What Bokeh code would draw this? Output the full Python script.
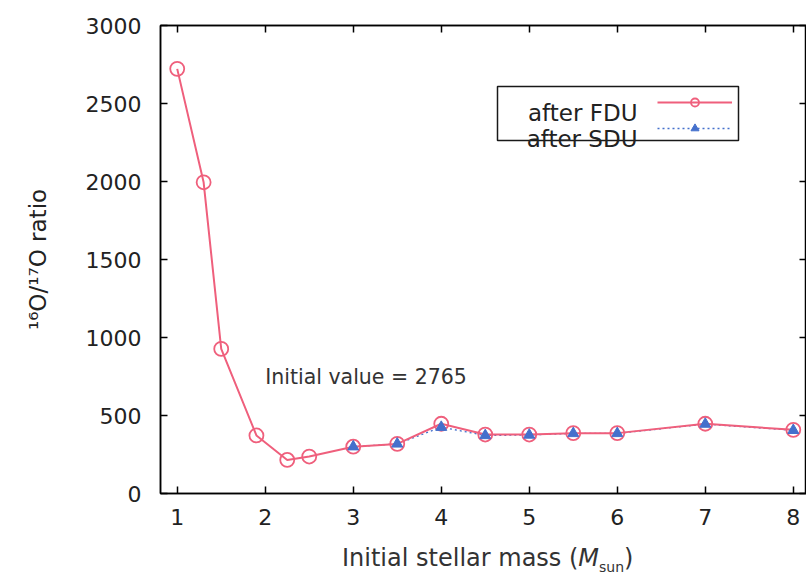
from bokeh.plotting import figure
from bokeh.layouts import column
from bokeh.models import (Range1d, FixedTicker, LinearAxis, Label, BoxAnnotation,
                          Legend, LegendItem, Div, CustomJSTickFormatter)
from bokeh.embed import file_html
from bokeh.resources import INLINE

# ---- data ----
mass_fdu = [1.0, 1.3, 1.5, 1.9, 2.25, 2.5, 3.0, 3.5, 4.0, 4.5, 5.0, 5.5, 6.0, 7.0, 8.0]
ratio_fdu = [2722, 1995, 927, 372, 215, 237, 300, 318, 447, 378, 378, 387, 387, 447, 408]
mass_sdu = [3.0, 3.5, 4.0, 4.5, 5.0, 5.5, 6.0, 7.0, 8.0]
ratio_sdu = [300, 318, 425, 372, 375, 385, 385, 445, 405]
x_ticks = [1, 2, 3, 4, 5, 6, 7, 8]
y_ticks = [0, 500, 1000, 1500, 2000, 2500, 3000]
series_labels = ["after FDU", "after SDU"]
note_text = "Initial value = 2765"
note_x, note_y = 2.0, 745

FONT = "DejaVu Sans"
PINK = "#ef5f7c"
BLUE = "#4470cc"

p = figure(width=806, height=535, output_backend="svg", toolbar_location=None,
           x_range=Range1d(0.81, 8.15), y_range=Range1d(0, 3000),
           min_border_left=160, min_border_right=0, min_border_top=25,
           min_border_bottom=42)
p.background_fill_color = "white"
p.border_fill_color = "white"
p.xgrid.visible = False
p.ygrid.visible = False
p.outline_line_color = "black"
p.outline_line_width = 1.5


def style_axis(ax, ticks, show_labels=True):
    ax.ticker = FixedTicker(ticks=ticks)
    ax.axis_line_color = "black"
    ax.axis_line_width = 1.5
    ax.major_tick_line_color = "black"
    ax.major_tick_line_width = 1.5
    ax.major_tick_in = 7
    ax.major_tick_out = 0
    ax.minor_tick_in = 0
    ax.minor_tick_out = 0
    ax.major_label_text_font = FONT
    ax.major_label_text_color = "#222222"
    ax.major_label_text_font_size = "22px"
    if not show_labels:
        ax.formatter = CustomJSTickFormatter(code="return ''")
        ax.major_label_standoff = 0


style_axis(p.xaxis[0], x_ticks)
style_axis(p.yaxis[0], y_ticks)
p.xaxis[0].major_label_standoff = 15
p.yaxis[0].major_label_standoff = 19
p.yaxis[0].axis_label = "\u00b9\u2076O/\u00b9\u2077O ratio"
p.yaxis[0].axis_label_text_font = FONT
p.yaxis[0].axis_label_text_font_size = "23px"
p.yaxis[0].axis_label_text_font_style = "normal"
p.yaxis[0].axis_label_text_color = "#222222"
p.yaxis[0].axis_label_standoff = 32

top_ax = LinearAxis()
style_axis(top_ax, x_ticks, show_labels=False)
p.add_layout(top_ax, "above")
right_ax = LinearAxis()
style_axis(right_ax, y_ticks, show_labels=False)
p.add_layout(right_ax, "right")

# ---- series ----
sdu_line = p.line(mass_sdu, ratio_sdu, line_color=BLUE, line_width=1.3, line_dash="2 3")
fdu_line = p.line(mass_fdu, ratio_fdu, line_color=PINK, line_width=2)
fdu_pts = p.scatter(mass_fdu, ratio_fdu, marker="circle", size=14, fill_color=None,
                    line_color=PINK, line_width=1.8)
sdu_pts = p.scatter(mass_sdu, ratio_sdu, marker="triangle", size=11, fill_color=BLUE,
                    line_color=BLUE, line_width=1)

# ---- legend (gnuplot style: text, then sample) ----
legend = Legend(items=[LegendItem(label="", renderers=[fdu_line, fdu_pts]),
                       LegendItem(label="", renderers=[sdu_line, sdu_pts])],
                location=(497, 355), glyph_width=75, glyph_height=20,
                label_width=0, label_height=20, label_standoff=0, spacing=6,
                padding=0, margin=0, border_line_alpha=0,
                background_fill_alpha=0, label_text_font_size="10px")
p.add_layout(legend)

p.add_layout(BoxAnnotation(left=337, right=578, top=407, bottom=353,
                           left_units="screen", right_units="screen",
                           top_units="screen", bottom_units="screen",
                           fill_alpha=0, fill_color=None, line_color="black",
                           line_width=1.5, line_alpha=0.9))
for txt, yy in zip(series_labels, [381, 354.5]):
    p.add_layout(Label(x=477, y=yy, x_units="screen", y_units="screen", text=txt,
                       text_align="right", text_baseline="alphabetic",
                       text_font=FONT, text_font_size="23px", text_color="#222222"))

# ---- annotation text ----
p.add_layout(Label(x=note_x, y=note_y, text=note_text, text_align="left",
                   text_baseline="alphabetic", text_font=FONT,
                   text_font_size="20.5px", text_color="#333333"))

# ---- x axis label with italic M and subscript ----
xlabel = Div(
    text='Initial stellar mass (<i>M</i><sub style="font-size:14px">sun</sub>)',
    width=806, height=40,
    styles={"font-family": FONT, "font-size": "24px", "color": "#333333",
            "padding-left": "337px", "padding-top": "4px", "line-height": "28px",
            "white-space": "nowrap"})

layout = column(p, xlabel, spacing=0)
open("out.html", "w").write(file_html(layout, INLINE))
